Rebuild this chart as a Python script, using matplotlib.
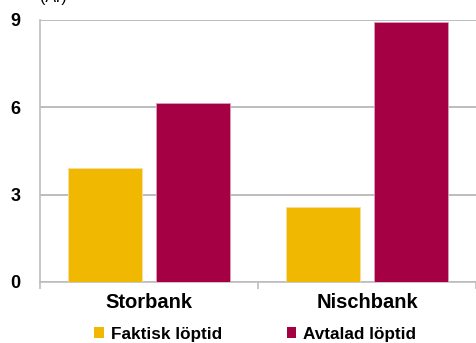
import matplotlib
matplotlib.use("Agg")
import matplotlib.pyplot as plt
from matplotlib.patches import Patch
import numpy as np

categories = ["Storbank", "Nischbank"]
faktisk = [3.92, 2.58]
avtalad = [6.15, 8.93]
series_names = ["Faktisk löptid", "Avtalad löptid"]
yticks = [0, 3, 6, 9]

yellow = "#F0B800"
red = "#A50044"
grid_c = "#BDBDBD"

plt.rcParams["font.family"] = ["Liberation Sans", "DejaVu Sans"]

fig = plt.figure(figsize=(4.76, 3.43), dpi=100)
ax = fig.add_axes([40 / 476, 1 - 282 / 343, 1 - 40 / 476, (282 - 20) / 343])

x = np.arange(len(categories))
w = 0.34
off = 0.2
ax.bar(x - off, faktisk, w, color=yellow, edgecolor="#F7DDA0", linewidth=0.6, zorder=3)
ax.bar(x + off, avtalad, w, color=red, edgecolor="#D9A0B4", linewidth=0.6, zorder=3)

ax.set_xlim(-0.5, len(categories) - 0.5)
ax.set_ylim(0, 9)
ax.set_yticks(yticks)
ax.set_yticklabels([str(t) for t in yticks], fontsize=13, fontweight="bold")
ax.yaxis.grid(True, color=grid_c, linewidth=1.4, zorder=0)
ax.tick_params(axis="y", length=0, pad=14)

ax.set_xticks(x)
ax.set_xticklabels(categories, fontsize=14.5, fontweight="bold")
ax.tick_params(axis="x", length=0, pad=8)
ax.set_xticks(np.arange(-0.5, len(categories)), minor=True)
ax.tick_params(axis="x", which="minor", length=5, color=grid_c, width=1.2)

for s in ["top", "right"]:
    ax.spines[s].set_visible(False)
ax.spines["left"].set_color(grid_c)
ax.spines["left"].set_linewidth(1.2)
ax.spines["bottom"].set_color(grid_c)
ax.spines["bottom"].set_linewidth(1.2)

fig.text(40 / 476, 1 - 5 / 343, "(År)", fontsize=11.5, ha="left", va="bottom")

handles = [Patch(facecolor=yellow, edgecolor="none"), Patch(facecolor=red, edgecolor="none")]
leg = fig.legend(handles, series_names, loc="center", bbox_to_anchor=(0.536, 1 - 334 / 343),
                 ncol=2, frameon=False, prop={"size": 12.3, "weight": "bold"},
                 handlelength=0.55, handleheight=0.55, handletextpad=0.4, columnspacing=3.8,
                 borderpad=0)

fig.savefig("out.png", dpi=100)
